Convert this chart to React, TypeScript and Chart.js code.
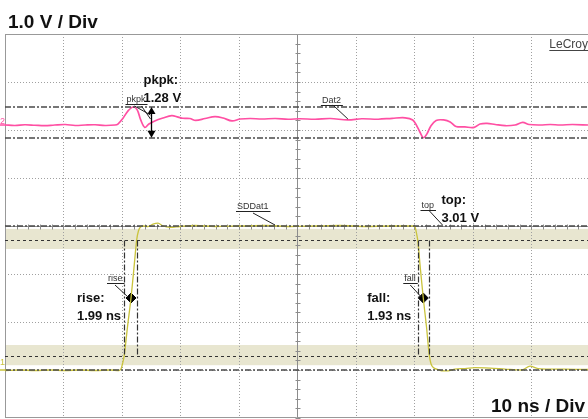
import React, { useEffect, useRef } from "react";
import { Chart, registerables } from "chart.js";

Chart.register(...registerables);

// ---- Data (time in ns, 10 ns / div; CH1 in V at 1.0 V/div, CH2 in V at 2 V/div) ----
const ch1Time = [
  0, 2.56, 5.13, 7.69, 10.26, 12.82, 15.38, 17.95, 19.49, 19.83, 20.09, 20.39, 20.94, 21.54,
  22.05, 22.51, 22.82, 23.16, 23.59, 24.44, 25.3, 26.15, 27.01, 28.21, 29.91, 32.48, 35.9,
  40.17, 44.44, 48.72, 52.99, 57.26, 61.54, 65.81, 69.74, 70.09, 70.34, 70.55, 71.03, 71.5,
  72.05, 72.53, 72.82, 73.33, 74.02, 74.87, 75.73, 76.92, 78.63, 80.34, 82.91, 85.47, 88.38,
  89.74, 91.11, 93.16, 95.73, 99.66,
];
const ch1Volts = [
  -0.01, 0, -0.01, 0, -0.01, 0, -0.01, 0, -0.01, 0.02, 0.13, 0.31, 0.9, 1.5,
  2.13, 2.71, 2.9, 2.98, 3.0, 2.99, 3.04, 3.06, 3.0, 2.97, 2.99, 3.01, 2.99,
  3.0, 3.01, 2.99, 3.0, 3.01, 2.99, 3.0, 3.0, 2.98, 2.85, 2.71, 2.08, 1.5,
  0.9, 0.31, 0.13, 0.04, 0.01, -0.02, -0.02, 0.02, 0.03, 0.05, 0.04, 0.02, 0,
  0.08, 0.03, 0.02, 0.02, 0.01,
];

const ch2Time = [
  0, 1.7, 3.4, 5.1, 6.8, 8.5, 10.3, 12.0, 13.7, 15.4, 17.1, 18.8, 19.3, 20.2, 21.0, 21.9,
  22.6, 23.2, 23.9, 24.6, 25.6, 27.0, 28.5, 29.6, 30.4, 31.6, 32.6, 34.2, 35.9, 37.3, 38.8,
  40.2, 41.9, 43.9, 46.2, 48.4, 50.4, 53.0, 55.6, 58.6, 61.0, 63.8, 66.2, 68.4, 69.7, 70.4,
  70.9, 71.5, 72.1, 72.8, 73.7, 75.0, 76.1, 77.1, 78.6, 80.2, 81.2, 82.4, 83.8, 85.5, 87.2,
  88.5, 89.6, 91.5, 93.2, 94.9, 97.0, 99.66,
];
const ch2Volts = [
  0, -0.02, 0.01, -0.01, -0.03, 0, 0.02, -0.02, 0, 0.01, -0.02, 0, 0.04, 0.29, 0.58, 0.75,
  0.63, 0.21, -0.1, 0.04, 0.17, 0.29, 0.39, 0.33, 0.28, 0.27, 0.19, 0.27, 0.35, 0.29, 0.17,
  0.25, 0.27, 0.25, 0.27, 0.24, 0.26, 0.24, 0.27, 0.21, 0.26, 0.24, 0.28, 0.3, 0.21, -0.04,
  -0.28, -0.53, -0.38, -0.04, 0.19, 0.21, 0.13, -0.06, -0.08, -0.1, 0.04, 0.07, 0.02, -0.03, 0,
  0.11, 0.02, 0, 0.02, 0, 0.02, 0,
];

// measurement markers (50% crossings) and cursors
const crossTimes = [21.54, 71.5];
const crossVolts = [1.5, 1.5];
const riseGate = [20.39, 22.51];
const fallGate = [70.55, 72.53];
const ch1Levels = [0, 3.0]; // base / top
const ch1Thresholds = [0.3, 2.7]; // 10% / 90%
const ch1Bands = [
  [0.1, 0.52],
  [2.52, 2.94],
];
const ch2PkLevels = [-0.53, 0.75];
const pkpkArrowTime = 25;

const gridTimes = [0, 10, 20, 30, 40, 50, 60, 70, 80, 90, 100];
const gridDivsY = [-1, 0, 1, 2, 3, 4, 5, 6, 7];

const labels = {
  vdiv: "1.0 V / Div",
  tdiv: "10 ns / Div",
  brand: "LeCroy",
  rise: "rise",
  riseVal: "1.99 ns",
  fall: "fall",
  fallVal: "1.93 ns",
  top: "top",
  topVal: "3.01 V",
  pkpk: "pkpk",
  pkpkVal: "1.28 V",
  ch1Name: "SDDat1",
  ch2Name: "Dat2",
};

const FONT = '"Liberation Sans", Arial, sans-serif';
const YELLOW = "#c9c33c";
const PINK = "#ff4fa3";
const DARK = "#4a4a4a";

function line(ctx: CanvasRenderingContext2D, x1: number, y1: number, x2: number, y2: number) {
  ctx.beginPath();
  ctx.moveTo(x1, y1);
  ctx.lineTo(x2, y2);
  ctx.stroke();
}

function smallLabel(ctx: CanvasRenderingContext2D, text: string, x: number, base: number) {
  ctx.font = `9px ${FONT}`;
  ctx.fillStyle = "#333";
  ctx.textAlign = "left";
  ctx.textBaseline = "alphabetic";
  ctx.fillText(text, x, base);
  const w = ctx.measureText(text).width;
  ctx.strokeStyle = "#222";
  ctx.lineWidth = 1;
  ctx.setLineDash([]);
  line(ctx, x - 1, base + 2.5, x + w + 2, base + 2.5);
  return w;
}

function boldPair(ctx: CanvasRenderingContext2D, a: string, b: string, x: number, y: number) {
  ctx.font = `bold 13px ${FONT}`;
  ctx.fillStyle = "#111";
  ctx.textAlign = "left";
  ctx.textBaseline = "middle";
  ctx.fillText(a, x, y);
  ctx.fillText(b, x, y + 18);
}

const scopePlugin = {
  id: "scope",
  beforeDatasetsDraw(chart: any) {
    const { ctx, chartArea: a, scales } = chart;
    const xs = scales.x;
    const ys = scales.y;
    ctx.save();
    // bands
    ctx.fillStyle = "#e8e6d0";
    for (const [lo, hi] of ch1Bands) {
      const t = ys.getPixelForValue(hi);
      const b = ys.getPixelForValue(lo);
      ctx.fillRect(a.left, t, a.right - a.left, b - t);
    }
    // dotted grid
    ctx.strokeStyle = "#a0a0a0";
    ctx.lineWidth = 1;
    ctx.setLineDash([1, 2]);
    for (const t of gridTimes) {
      if (t === 50 || t === 0) continue;
      const px = Math.round(xs.getPixelForValue(t)) + 0.5;
      if (px > a.right) continue;
      line(ctx, px, a.top, px, a.bottom);
    }
    for (const v of gridDivsY) {
      if (v === 3 || v === -1 || v === 7) continue;
      const py = Math.round(ys.getPixelForValue(v)) + 0.5;
      line(ctx, a.left, py, a.right, py);
    }
    // center axes with minor ticks
    ctx.setLineDash([]);
    ctx.strokeStyle = "#8c8c8c";
    const cx = Math.round(xs.getPixelForValue(50)) + 0.5;
    const cy = Math.round(ys.getPixelForValue(3)) + 0.5;
    line(ctx, cx, a.top, cx, a.bottom);
    line(ctx, a.left, cy, a.right, cy);
    for (let v = -1; v <= 7.001; v += 0.2) {
      const py = Math.round(ys.getPixelForValue(v)) + 0.5;
      line(ctx, cx - 2, py, cx + 3, py);
    }
    for (let t = 0; t <= 100; t += 2) {
      const px = Math.round(xs.getPixelForValue(t)) + 0.5;
      if (px > a.right) break;
      line(ctx, px, cy - 2, px, cy + 3);
    }
    // border
    ctx.strokeStyle = "#999";
    line(ctx, a.left + 0.5, a.top, a.left + 0.5, a.bottom);
    line(ctx, a.left, a.top + 0.5, a.right, a.top + 0.5);
    line(ctx, a.left, a.bottom - 0.5, a.right, a.bottom - 0.5);
    ctx.restore();
  },
  afterDatasetsDraw(chart: any) {
    const { ctx, chartArea: a, scales } = chart;
    const xs = scales.x;
    const ys = scales.y;
    const y2 = scales.y2;
    ctx.save();
    // dash-dot level lines
    ctx.strokeStyle = DARK;
    ctx.lineWidth = 1.5;
    ctx.setLineDash([6, 2, 2, 2]);
    for (const v of ch1Levels) {
      const py = Math.round(ys.getPixelForValue(v));
      line(ctx, a.left, py, a.right, py);
    }
    for (const v of ch2PkLevels) {
      const py = Math.round(y2.getPixelForValue(v));
      line(ctx, a.left, py, a.right, py);
    }
    // threshold dashed lines
    ctx.lineWidth = 1;
    ctx.strokeStyle = "#333";
    ctx.setLineDash([3, 3]);
    for (const v of ch1Thresholds) {
      const py = Math.round(ys.getPixelForValue(v)) + 0.5;
      line(ctx, a.left, py, a.right, py);
    }
    // gates
    ctx.strokeStyle = "#333";
    ctx.lineWidth = 1.2;
    ctx.setLineDash([6, 2, 2, 2]);
    const gTop = ys.getPixelForValue(ch1Thresholds[1]);
    const gBot = ys.getPixelForValue(ch1Thresholds[0]);
    for (const t of [...riseGate, ...fallGate]) {
      const px = Math.round(xs.getPixelForValue(t)) + 0.5;
      line(ctx, px, gTop, px, gBot);
    }
    ctx.setLineDash([]);

    // measurement labels
    const midY = ys.getPixelForValue(crossVolts[0]);
    const rx = xs.getPixelForValue(crossTimes[0]);
    const fx = xs.getPixelForValue(crossTimes[1]);
    smallLabel(ctx, labels.rise, rx - 23, midY - 17);
    ctx.strokeStyle = "#222";
    line(ctx, rx - 16, midY - 13, rx - 3, midY - 1);
    boldPair(ctx, labels.rise + ":", labels.riseVal, rx - 54, midY);

    smallLabel(ctx, labels.fall, fx - 19, midY - 17);
    ctx.strokeStyle = "#222";
    line(ctx, fx - 13, midY - 13, fx - 2, midY - 1);
    boldPair(ctx, labels.fall + ":", labels.fallVal, fx - 56, midY);

    const topY = ys.getPixelForValue(ch1Levels[1]);
    const fs = xs.getPixelForValue(70);
    smallLabel(ctx, labels.top, fs + 7, topY - 18);
    ctx.strokeStyle = "#222";
    line(ctx, fs + 15, topY - 15, fs + 28, topY - 1);
    boldPair(ctx, labels.top + ":", labels.topVal, fs + 27, topY - 26);

    const sx = xs.getPixelForValue(40);
    smallLabel(ctx, labels.ch1Name, sx - 2, topY - 17);
    ctx.strokeStyle = "#222";
    line(ctx, sx + 14, topY - 13, sx + 36, topY - 1);

    const dx = xs.getPixelForValue(54);
    const ch2Base = y2.getPixelForValue(0);
    smallLabel(ctx, labels.ch2Name, dx + 1, ch2Base - 22);
    ctx.strokeStyle = "#222";
    line(ctx, dx + 12, ch2Base - 20, dx + 27, ch2Base - 6);

    // pkpk arrow
    const ax = Math.round(xs.getPixelForValue(pkpkArrowTime)) + 0.5;
    const pTop = y2.getPixelForValue(ch2PkLevels[1]);
    const pBot = y2.getPixelForValue(ch2PkLevels[0]);
    ctx.strokeStyle = "#000";
    ctx.fillStyle = "#000";
    ctx.lineWidth = 1.3;
    line(ctx, ax, pTop + 4, ax, pBot - 4);
    ctx.beginPath();
    ctx.moveTo(ax, pTop);
    ctx.lineTo(ax - 4, pTop + 7);
    ctx.lineTo(ax + 4, pTop + 7);
    ctx.closePath();
    ctx.fill();
    ctx.beginPath();
    ctx.moveTo(ax, pBot);
    ctx.lineTo(ax - 4, pBot - 7);
    ctx.lineTo(ax + 4, pBot - 7);
    ctx.closePath();
    ctx.fill();
    ctx.lineWidth = 1;
    smallLabel(ctx, labels.pkpk, ax - 25, pTop - 5);
    ctx.strokeStyle = "#222";
    line(ctx, ax - 17, pTop - 1, ax - 1, pTop + 8);
    line(ctx, ax - 10, pTop - 1, ax - 1, pTop + 12);
    boldPair(ctx, labels.pkpk + ":", labels.pkpkVal, ax - 8, pTop - 27);

    // channel markers
    ctx.font = `9px ${FONT}`;
    ctx.textAlign = "left";
    ctx.textBaseline = "alphabetic";
    ctx.fillStyle = PINK;
    ctx.fillText("2", 0, ch2Base - 1);
    ctx.fillStyle = YELLOW;
    const ch1Base = ys.getPixelForValue(0);
    ctx.fillText("1", 0, ch1Base - 5);
    ctx.lineWidth = 1.5;
    ctx.strokeStyle = PINK;
    line(ctx, 0, ch2Base, 6, ch2Base);
    ctx.strokeStyle = YELLOW;
    line(ctx, 0, ch1Base, 6, ch1Base);

    // titles
    ctx.fillStyle = "#111";
    ctx.font = `bold 19px ${FONT}`;
    ctx.textAlign = "left";
    ctx.fillText(labels.vdiv, 8, 28);
    ctx.font = `bold 19px ${FONT}`;
    ctx.textAlign = "right";
    ctx.fillText(labels.tdiv, 585, 412);
    ctx.font = `12px ${FONT}`;
    ctx.fillStyle = "#444";
    ctx.fillText(labels.brand, 588, 48);
    const bw = ctx.measureText(labels.brand).width;
    ctx.strokeStyle = "#444";
    ctx.lineWidth = 1;
    line(ctx, 588 - bw, 50.5, 588, 50.5);
    ctx.restore();
  },
};

export default function App() {
  const ref = useRef<HTMLCanvasElement | null>(null);
  useEffect(() => {
    if (!ref.current) return;
    const chart = new Chart(ref.current, {
      type: "line",
      data: {
        datasets: [
          {
            label: "CH2",
            data: ch2Time.map((t, i) => ({ x: t, y: ch2Volts[i] })),
            borderColor: PINK,
            borderWidth: 1.7,
            pointRadius: 0,
            tension: 0.35,
            yAxisID: "y2",
          },
          {
            label: "CH1",
            data: ch1Time.map((t, i) => ({ x: t, y: ch1Volts[i] })),
            borderColor: YELLOW,
            borderWidth: 1.3,
            pointRadius: 0,
            cubicInterpolationMode: "monotone",
            yAxisID: "y",
          },
          {
            label: "cross",
            data: crossTimes.map((t, i) => ({ x: t, y: crossVolts[i] })),
            showLine: false,
            pointStyle: "rectRot",
            pointRadius: 5,
            backgroundColor: "#000",
            borderColor: "#000",
            yAxisID: "y",
          },
        ],
      },
      options: {
        responsive: false,
        maintainAspectRatio: false,
        animation: false,
        layout: { autoPadding: false, padding: { left: 5, top: 34, right: 0, bottom: 1 } },
        plugins: { legend: { display: false }, tooltip: { enabled: false } },
        scales: {
          x: { type: "linear", display: false, min: 0, max: 99.66 },
          y: { type: "linear", display: false, min: -1, max: 7 },
          y2: { type: "linear", display: false, min: -12.2083, max: 3.7917 },
        },
      },
      plugins: [scopePlugin],
    } as any);
    return () => chart.destroy();
  }, []);
  return (
    <div style={{ position: "fixed", left: 0, top: 0, width: 588, height: 419, background: "#fff", overflow: "hidden" }}>
      <canvas ref={ref} width={588} height={419} style={{ display: "block" }} />
    </div>
  );
}
